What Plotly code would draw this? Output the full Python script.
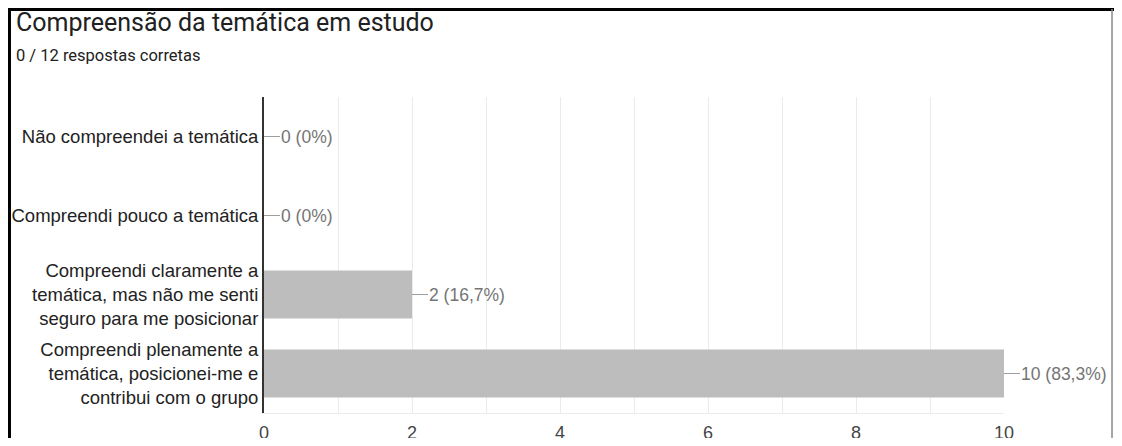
import plotly.graph_objects as go

categories = [
    "Não compreendei a temática",
    "Compreendi pouco a temática",
    "Compreendi claramente a<br>temática, mas não me senti<br>seguro para me posicionar",
    "Compreendi plenamente a<br>temática, posicionei-me e<br>contribui com o grupo",
]
counts = [0, 0, 2, 10]
total = 12
x_ticks = [0, 2, 4, 6, 8, 10]

title_text = "Compreensão da temática em estudo"
subtitle_text = "0 / 12 respostas corretas"
caption_text = "Figura 37 - Diário de Bordo Final"

# page has an 8px body margin: figure is sized so the page fits the window
W, H = 1106, 430


def fx(ref):  # reference-picture x -> figure x
    return (ref - 8) * W / 1114


def fy(ref):  # reference-picture y -> figure y
    return 1 + (ref - 10) * 428 / 436


L = round(fx(266))
R = W - round(fx(1011))
T = round(fy(100))
B = H - round(fy(422))
PW, PH = W - L - R, H - T - B


def px(ref):
    return (fx(ref) - L) / PW


def py(ref):
    return (H - B - fy(ref)) / PH


def pct(v):
    p = v / total * 100
    if abs(p - round(p)) < 1e-9:
        return f"{int(round(p))}%"
    return f"{p:.1f}%".replace(".", ",")


fig = go.Figure()
fig.add_trace(go.Bar(
    x=counts, y=categories, orientation="h",
    marker=dict(color="#bdbdbd", line=dict(width=0)),
    width=0.61, hoverinfo="skip",
))

label_font = dict(family="Liberation Sans, Arial", size=17.5, color="#757575")
for c, v in zip(categories, counts):
    fig.add_annotation(
        x=v, y=c, xref="x", yref="y", text=f"{v} ({pct(v)})",
        showarrow=True, arrowhead=0, arrowwidth=1, arrowcolor="#9e9e9e",
        ax=16, ay=0, xanchor="left", font=label_font, borderpad=0,
    )

fig.add_annotation(x=px(14), y=py(24), xref="paper", yref="paper",
                   text=title_text, showarrow=False, xanchor="left", yanchor="middle",
                   font=dict(family="Roboto", size=25, color="#212121"))
fig.add_annotation(x=px(14), y=py(57), xref="paper", yref="paper",
                   text=subtitle_text, showarrow=False, xanchor="left", yanchor="middle",
                   font=dict(family="Roboto", size=16.5, color="#212121"))
fig.add_annotation(x=px(5), y=py(11), xref="paper", yref="paper",
                   text=caption_text, showarrow=False, xanchor="left", yanchor="bottom",
                   font=dict(family="Liberation Serif", size=22, color="#000000"))

# frame of the screenshot
fig.add_shape(type="line", xref="paper", yref="paper", x0=px(8), x1=px(1122), y0=py(10.5), y1=py(10.5),
              line=dict(color="#000000", width=3))
fig.add_shape(type="line", xref="paper", yref="paper", x0=px(9.5), x1=px(9.5), y0=py(9), y1=py(460),
              line=dict(color="#000000", width=3))
fig.add_shape(type="line", xref="paper", yref="paper", x0=px(1120), x1=px(1120), y0=py(10), y1=py(460),
              line=dict(color="#8a8a8a", width=1.5))

fig.update_layout(
    width=W, height=H, margin=dict(l=L, r=R, t=T, b=B, autoexpand=False),
    paper_bgcolor="white", plot_bgcolor="white", showlegend=False,
    xaxis=dict(range=[0, 10], tickvals=x_ticks, showgrid=True, gridcolor="#ebebeb", gridwidth=1,
               minor=dict(dtick=1, showgrid=True, gridcolor="#ebebeb", gridwidth=1),
               showline=True, linecolor="#ebebeb", linewidth=1, zeroline=False,
               ticks="", ticklabelstandoff=3, automargin=False,
               tickfont=dict(family="Liberation Sans, Arial", size=18, color="#444444"),
               fixedrange=True),
    yaxis=dict(categoryorder="array", categoryarray=categories, autorange="reversed",
               showline=True, linecolor="#333333", linewidth=2, showgrid=False,
               ticks="", ticklabelstandoff=0, automargin=False,
               tickfont=dict(family="Liberation Sans, Arial", size=18.5, color="#222222"),
               fixedrange=True),
    bargap=0.39,
)

fig.write_html("out.html")
